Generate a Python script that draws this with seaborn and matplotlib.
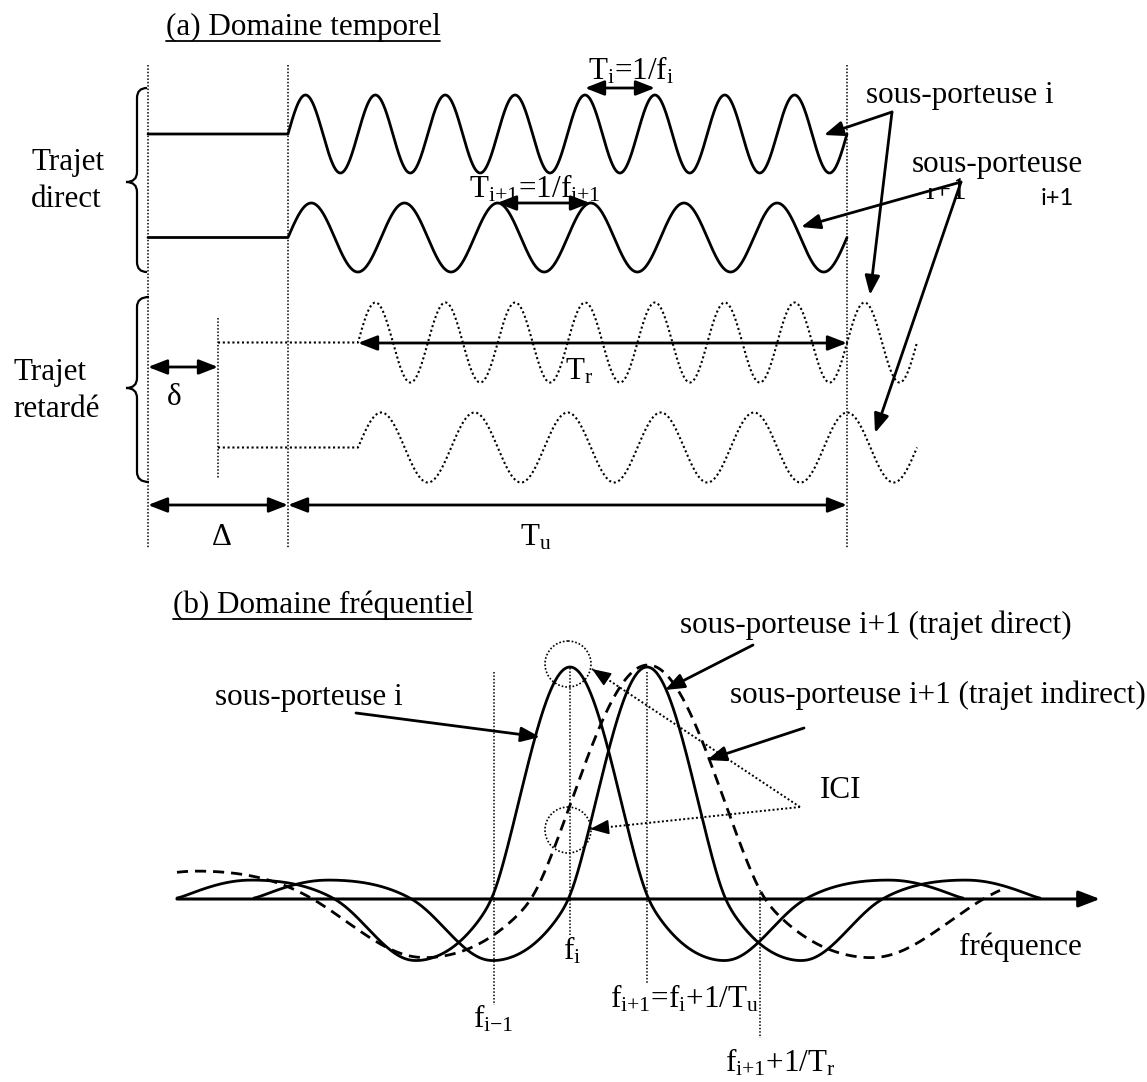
import numpy as np
import pandas as pd
import matplotlib
matplotlib.use("Agg")
import matplotlib.pyplot as plt
import seaborn as sns
from matplotlib.path import Path
from matplotlib.patches import PathPatch, Circle, Rectangle

# ---------------- data (pixel frame) ----------------
# (a) time domain
x_guard_start = 148          # start of guard interval
x_symbol_start = 288         # start of useful symbol
x_symbol_end = 847           # end of useful symbol
x_delay_start = 218          # start of delayed path (delta)
delay_shift = 70             # delayed waves start this much later
cycles = [8, 6]              # cycles per useful duration (sub-carrier i, i+1)
direct_mid = [134.0, 237.5]
direct_amp = [39.0, 34.5]
delayed_mid = [342.5, 447.5]
delayed_amp = [40.0, 35.0]

# (b) frequency domain
baseline_y = 899
lobe_centers = [570, 647]
lobe_peak = 232
lobe_half = 77
side_width = 158
side_amp = [62, 19]
indirect_center = 648
indirect_peak = 234
indirect_half = 115
indirect_side_width = 220
indirect_side_amp = [59, 28]
indirect_span = [177, 1000]
freq_marks_x = [494, 570, 647, 760]
freq_marks_y0 = [672, 668, 672, 890]
freq_marks_y1 = [1005, 935, 983, 1038]

# ---------------- style ----------------
sns.set_theme(style="white")
plt.rcParams["font.family"] = ["Liberation Serif", "DejaVu Serif"]
plt.rcParams["mathtext.fontset"] = "custom"
plt.rcParams["mathtext.rm"] = "Liberation Serif"
plt.rcParams["mathtext.it"] = "Liberation Serif:italic"
FS = 22.4
K = "black"

fig = plt.figure(figsize=(11.47, 10.82), dpi=100)
ax = fig.add_axes([0, 0, 1, 1])


def carrier(x0, xflat, mid, amp, ncyc, n=1500):
    period = (x_symbol_end - x_symbol_start) / ncyc
    xs = np.linspace(x0, x0 + ncyc * period, n)
    ys = mid - amp * np.sin(2 * np.pi * (xs - x0) / period)
    xs = np.concatenate([[xflat], xs])
    ys = np.concatenate([[mid], ys])
    return pd.DataFrame({"x": xs, "y": ys})


def herm(t, p0, m0, p1, m1, h):
    t2 = t * t
    t3 = t2 * t
    return ((2 * t3 - 3 * t2 + 1) * p0 + (t3 - 2 * t2 + t) * h * m0
            + (-2 * t3 + 3 * t2) * p1 + (t3 - t2) * h * m1)


def lobe_raw(u, A, w, L, a):
    u = np.abs(u)
    h = L / 2.0
    hi, ho = 0.54 * L, 0.46 * L
    D, P = a
    s0 = min(A / w, 2.2 * D / h)
    s_out = min(1.3 * D / h, 2.5 * P / hi)
    s_end = 1.57 * P / ho
    d = u - w
    e = d - L
    out = np.zeros_like(u)
    m = u <= w
    out[m] = A * np.sinc(u[m] / w)
    m = (d > 0) & (d <= h)
    out[m] = herm(d[m] / h, 0, -s0, -D, 0, h)
    m = (d > h) & (d <= 2 * h)
    out[m] = herm((d[m] - h) / h, -D, 0, 0, s_out, h)
    m = (e > 0) & (e <= hi)
    out[m] = herm(e[m] / hi, 0, s_out, P, 0, hi)
    m = (e > hi) & (e <= L)
    out[m] = herm((e[m] - hi) / ho, P, 0, 0, -s_end, ho)
    return out


def lobe_curve(c, A, w, L, a, x0, x1, sigma):
    step = 0.5
    pad = 4 * sigma
    xg = np.arange(x0 - pad, x1 + pad + step, step)
    A2 = A + 0.5 * A * (np.pi ** 2 / 3) / w ** 2 * sigma ** 2
    raw = lobe_raw(xg - c, A2, w, L, a)
    k = np.arange(-pad, pad + step, step)
    g = np.exp(-0.5 * (k / sigma) ** 2)
    g /= g.sum()
    sm = np.convolve(raw, g, mode="same")
    keep = (xg >= x0) & (xg <= x1)
    return pd.DataFrame({"x": xg[keep], "y": baseline_y - sm[keep]})


def arrow(p0, p1, both=False, lw=2.0):
    st = "<|-|>" if both else "-|>"
    ax.annotate("", xy=p1, xytext=p0,
                arrowprops=dict(arrowstyle=f"{st},head_length=1.15,head_width=0.45",
                                mutation_scale=10, lw=lw, color=K,
                                shrinkA=0, shrinkB=0), zorder=5)


def dotted_arrow(p0, p1):
    ax.plot([p0[0], p1[0]], [p0[1], p1[1]], color=K, lw=1.4, ls=(0, (1, 1.2)))
    d = np.array(p1) - np.array(p0)
    d = d / np.hypot(*d)
    q = np.array(p1) - d * 16
    ax.annotate("", xy=p1, xytext=tuple(q),
                arrowprops=dict(arrowstyle="-|>,head_length=1.15,head_width=0.45",
                                mutation_scale=10, lw=1.2, color=K,
                                shrinkA=0, shrinkB=0))


def brace(xtip, xmid, xcusp, ytop, ybot, ycusp, r=10):
    verts = [(xtip, ytop), (xmid, ytop), (xmid, ytop + r),
             (xmid, ycusp - r), (xmid, ycusp), (xcusp, ycusp),
             (xmid, ycusp), (xmid, ycusp + r),
             (xmid, ybot - r), (xmid, ybot), (xtip, ybot)]
    codes = [Path.MOVETO, Path.CURVE3, Path.CURVE3,
             Path.LINETO, Path.CURVE3, Path.CURVE3,
             Path.CURVE3, Path.CURVE3,
             Path.LINETO, Path.CURVE3, Path.CURVE3]
    ax.add_patch(PathPatch(Path(verts, codes), fill=False, lw=1.6, color=K))


def txt(x, y, s, size=FS, **kw):
    ax.text(x, y, s, fontsize=size, ha=kw.pop("ha", "left"),
            va=kw.pop("va", "baseline"), color=K, zorder=kw.pop("zorder", 4), **kw)


# ---------------- (a) Domaine temporel ----------------
txt(166, 35, "(a) Domaine temporel")
ax.plot([166, 440], [41, 41], color=K, lw=1.3)

for xv in [x_guard_start, x_symbol_start, x_symbol_end]:
    ax.plot([xv, xv], [65, 548], color=K, lw=1.1, ls=(0, (1, 1.2)))
ax.plot([x_delay_start, x_delay_start], [318, 478], color=K, lw=1.1, ls=(0, (1, 1.2)))

for i in range(2):
    df = carrier(x_symbol_start, x_guard_start, direct_mid[i], direct_amp[i], cycles[i])
    sns.lineplot(data=df, x="x", y="y", ax=ax, color=K, lw=2.0, sort=False, estimator=None)
    dfd = carrier(x_symbol_start + delay_shift, x_delay_start, delayed_mid[i],
                  delayed_amp[i], cycles[i])
    sns.lineplot(data=dfd, x="x", y="y", ax=ax, color=K, lw=1.5, sort=False,
                 estimator=None, linestyle=(0, (1, 1.3)))

brace(147, 137, 126, 88, 272, 182)
brace(149, 137, 126, 297, 482, 388)

txt(31, 170, "Trajet")
txt(31, 207, "direct")
txt(13, 380, "Trajet")
txt(13, 417, "retardé")

arrow((585, 88), (655, 88), both=True)
txt(588, 80, "T$_\\mathrm{i}$=1/f$_\\mathrm{i}$")
arrow((497, 203), (590, 203), both=True)
txt(469, 197, "T$_\\mathrm{i{+}1}$=1/f$_\\mathrm{i{+}1}$")
arrow((358, 343), (847, 343), both=True)
txt(565, 380, "T$_\\mathrm{r}$")
arrow((148, 367), (218, 367), both=True)
txt(174, 405, "δ", ha="center")
arrow((148, 505), (288, 505), both=True)
arrow((288, 505), (847, 505), both=True)
txt(222, 545, "Δ", ha="center")
txt(520, 545, "T$_\\mathrm{u}$")

txt(866, 103, "sous-porteuse i")
txt(912, 172, "sous-porteuse")
# partly hidden original "i+1" under the label
txt(925, 199, "i+1", zorder=2)
ax.add_patch(Rectangle((912, 175), 44, 13, facecolor="white", edgecolor="none", zorder=3))
txt(1041, 205, "i+1", size=17, family=["Lato", "DejaVu Sans"])
arrow((892, 112), (824, 135))
arrow((892, 112), (870, 295))
arrow((961, 182), (801, 227))
arrow((961, 182), (875, 433))

# ---------------- (b) Domaine fréquentiel ----------------
txt(173, 613, "(b) Domaine fréquentiel")
ax.plot([173, 471], [619, 619], color=K, lw=1.3)

for xv, y0, y1 in zip(freq_marks_x, freq_marks_y0, freq_marks_y1):
    ax.plot([xv, xv], [y0, y1], color=K, lw=1.1, ls=(0, (1, 1.2)))

ext = lobe_half + 2 * side_width
for c in lobe_centers:
    df = lobe_curve(c, lobe_peak, lobe_half, side_width, side_amp, c - ext, c + ext, 6)
    sns.lineplot(data=df, x="x", y="y", ax=ax, color=K, lw=2.0, sort=False, estimator=None)

dfi = lobe_curve(indirect_center, indirect_peak, indirect_half, indirect_side_width,
                 indirect_side_amp, indirect_span[0], indirect_span[1], 8)
sns.lineplot(data=dfi, x="x", y="y", ax=ax, color=K, lw=2.0, sort=False, estimator=None,
             linestyle=(0, (4, 2.5)))

# frequency axis
ax.annotate("", xy=(1100, baseline_y), xytext=(177, baseline_y),
            arrowprops=dict(arrowstyle="-|>,head_length=1.3,head_width=0.5",
                            mutation_scale=10, lw=2.2, color=K, shrinkA=0, shrinkB=0))

ax.add_patch(Circle((568, 664), 23, fill=False, lw=1.2, ls=(0, (1, 1.2)), color=K))
ax.add_patch(Circle((568, 830), 23, fill=False, lw=1.2, ls=(0, (1, 1.2)), color=K))
dotted_arrow((800, 807), (592, 669))
dotted_arrow((800, 807), (590, 829))
txt(820, 798, "ICI")

txt(215, 705, "sous-porteuse i")
arrow((356, 713), (540, 737))
txt(680, 633, "sous-porteuse i+1 (trajet direct)")
arrow((753, 645), (665, 690))
txt(730, 703, "sous-porteuse i+1 (trajet indirect)")
arrow((804, 728), (707, 760))

txt(959, 955, "fréquence")
txt(563, 960, "f$_\\mathrm{i}$")
txt(473, 1028, "f$_\\mathrm{i{-}1}$")
txt(610, 1007, "f$_\\mathrm{i{+}1}$=f$_\\mathrm{i}$+1/T$_\\mathrm{u}$")
txt(725, 1072, "f$_\\mathrm{i{+}1}$+1/T$_\\mathrm{r}$")

ax.set_xlim(0, 1147)
ax.set_ylim(1082, 0)
ax.axis("off")
fig.savefig("out.png", dpi=100, facecolor="white")
